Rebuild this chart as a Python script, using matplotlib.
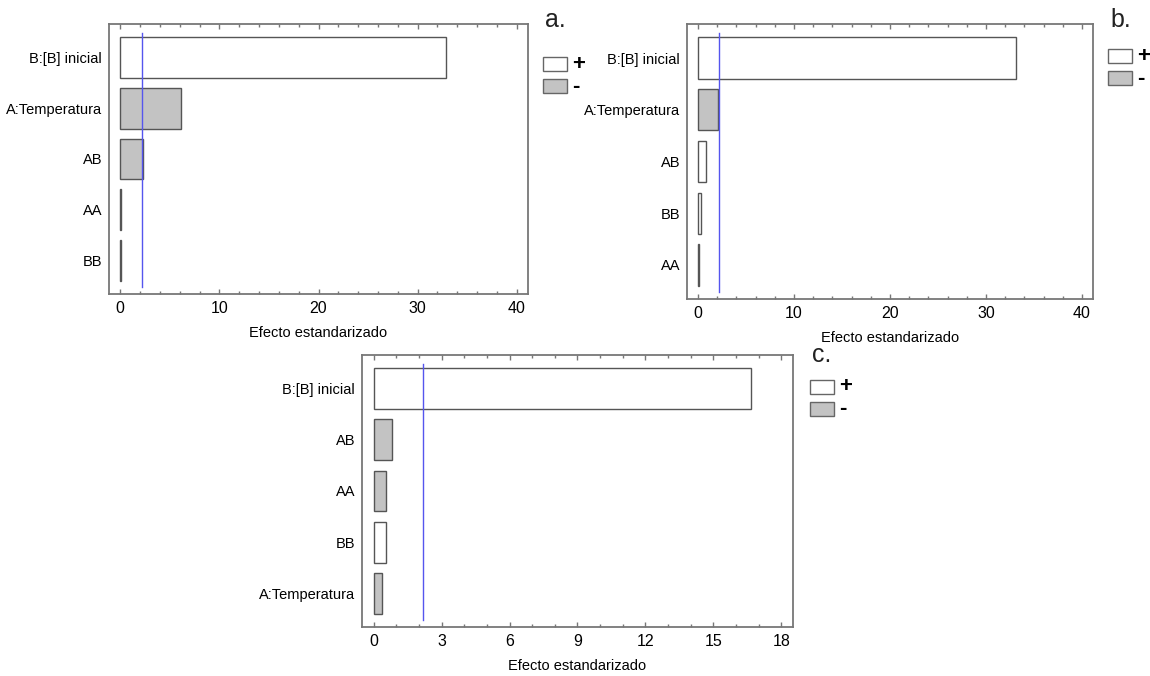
import matplotlib
matplotlib.use("Agg")
import matplotlib.pyplot as plt
from matplotlib.patches import Rectangle
from matplotlib.ticker import MultipleLocator

plt.rcParams["font.family"] = ["Liberation Sans", "DejaVu Sans"]

# ------------------------------------------------------------
# data (standardized effects)
# ------------------------------------------------------------
labels_a = ["B:[B] inicial", "A:Temperatura", "AB", "AA", "BB"]
effects_a = [32.9, 6.15, 2.25, 0.1, 0.1]
signs_a = ["+", "-", "-", "-", "-"]

labels_b = ["B:[B] inicial", "A:Temperatura", "AB", "BB", "AA"]
effects_b = [33.1, 2.13, 0.8, 0.3, 0.15]
signs_b = ["+", "-", "+", "+", "-"]

labels_c = ["B:[B] inicial", "AB", "AA", "BB", "A:Temperatura"]
effects_c = [16.65, 0.83, 0.56, 0.56, 0.39]
signs_c = ["+", "-", "-", "+", "-"]

crit_a, crit_b, crit_c = 2.17, 2.17, 2.18

W, H = 1150, 676
FILL = {"+": "white", "-": "#c3c3c3"}
FRAME = "#777777"
FS = 10.5


def px_box(left, top, right, bottom):
    return [left / W, (H - bottom) / H, (right - left) / W, (bottom - top) / H]


def pareto(ax, labels, effects, signs, crit, xmax, major, minor):
    pos = list(range(len(labels)))
    ax.barh(pos, effects, height=0.8, color=[FILL[s] for s in signs],
            edgecolor="#555555", linewidth=1.0, zorder=2)
    ax.axvline(crit, ymin=0.027, ymax=0.968, color="#5555ee", lw=1.0, zorder=3)
    ax.set_yticks(pos)
    ax.set_yticklabels(labels)
    ax.set_ylim(len(labels) - 1 + 0.66, -0.66)
    pad = xmax * 0.0285
    ax.set_xlim(-pad, xmax + pad)
    ax.xaxis.set_major_locator(MultipleLocator(major))
    ax.xaxis.set_minor_locator(MultipleLocator(minor))
    ax.tick_params(axis="x", which="both", direction="in", top=True,
                   bottom=True, color=FRAME, labelsize=FS + 1, pad=5)
    ax.tick_params(axis="x", which="major", length=3.8, width=1)
    ax.tick_params(axis="x", which="minor", length=2, width=1)
    ax.tick_params(axis="y", length=0, labelsize=FS, pad=5)
    for sp in ax.spines.values():
        sp.set_color(FRAME)
        sp.set_linewidth(1.3)
    ax.set_xlabel("Efecto estandarizado", fontsize=FS, labelpad=7)


def legend(fig, x, y, tag, tag_y):
    # panel tag plus two swatches (+ white, - gray), placed in figure pixels
    fig.text((x + 2) / W, 1 - tag_y / H, tag, fontsize=18, va="center",
             ha="left", color="#222222")
    for i, s in enumerate(["+", "-"]):
        top = y + i * 22
        fig.add_artist(Rectangle((x / W, (H - top - 14) / H), 24 / W, 14 / H,
                                 transform=fig.transFigure, facecolor=FILL[s],
                                 edgecolor="#666666", lw=1.0))
        fig.text((x + 29) / W, 1 - (top + 7) / H, s, fontsize=16,
                 fontweight="bold", va="center", ha="left")


fig = plt.figure(figsize=(W / 100, H / 100), dpi=100)

ax_a = fig.add_axes(px_box(109, 24, 528, 294))
pareto(ax_a, labels_a, effects_a, signs_a, crit_a, 40, 10, 2)

ax_b = fig.add_axes(px_box(687, 24, 1093, 299))
pareto(ax_b, labels_b, effects_b, signs_b, crit_b, 40, 10, 2)

ax_c = fig.add_axes(px_box(362, 355, 793, 627))
pareto(ax_c, labels_c, effects_c, signs_c, crit_c, 18, 3, 1)

legend(fig, 543, 57, "a.", 20)
legend(fig, 1108, 49, "b.", 20)
legend(fig, 810, 380, "c.", 355)

fig.savefig("out.png", dpi=100)
